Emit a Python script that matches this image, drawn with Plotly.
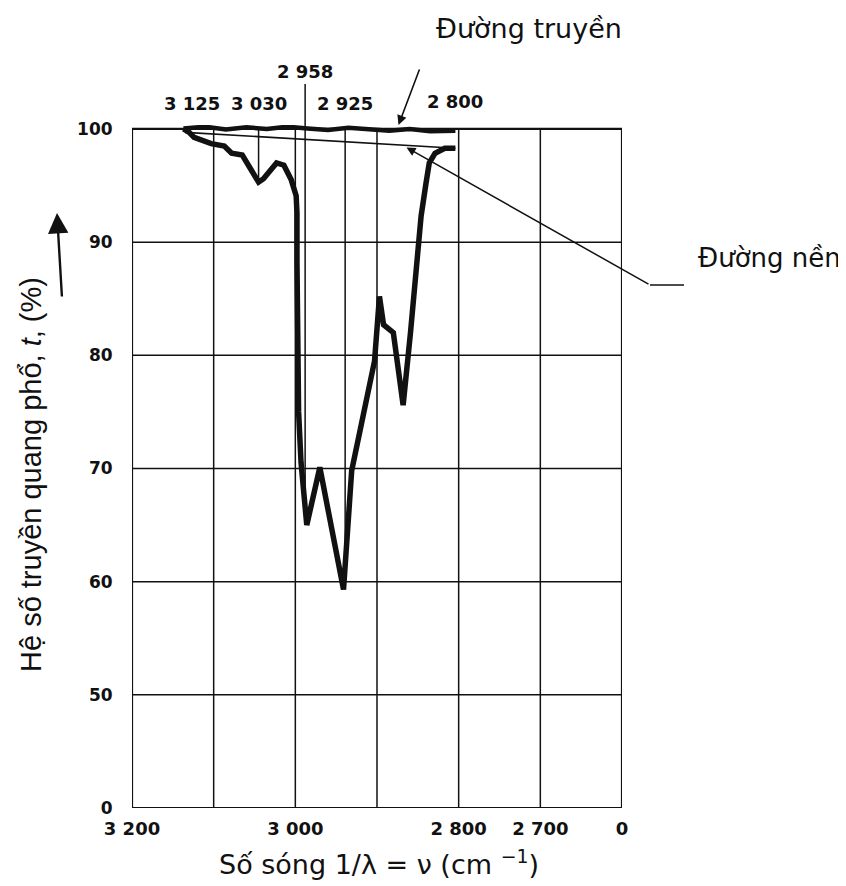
import plotly.graph_objects as go

# ---------------- data ----------------
# transmission curve (wavenumber cm-1, transmission %)
curve_wn = [3137, 3130, 3124, 3103, 3087, 3078, 3065, 3057, 3045, 3039, 3023, 3014,
            3005, 2999, 2998, 2998, 2997, 2996, 2993, 2986, 2970, 2941, 2931, 2917,
            2903, 2897, 2892, 2880, 2868, 2859, 2851, 2846, 2840, 2836, 2829, 2817, 2804]
curve_t = [100.0, 99.7, 99.25, 98.7, 98.5, 97.85, 97.7, 96.8, 95.3, 95.6, 97.0, 96.8,
           95.5, 94.1, 92.6, 88.2, 80.3, 75.0, 70.5, 65.0, 70.1, 59.3, 69.8, 74.8,
           79.5, 85.2, 82.7, 82.0, 75.6, 82.0, 87.9, 92.3, 95.2, 97.0, 97.85, 98.3, 98.3]

# "Đường nền" (baseline)
base_wn = [3135, 2804]
base_t = [99.7, 98.3]

# "Đường truyền" (100 % transmission line, hand drawn)
trans_wn = [3137, 3110, 3085, 3060, 3035, 3010, 2985, 2960, 2935, 2910, 2885, 2860, 2835, 2804]
trans_t = [100.05, 100.2, 99.95, 100.15, 100.0, 100.2, 100.05, 99.9, 100.1, 99.95, 99.85, 100.0, 99.8, 99.85]

# peak marker labels on top
top_pos = [3127, 3045, 2988, 2939, 2804]
top_text = ["3 125", "3 030", "2 958", "2 925", "2 800"]
top_row_px = [104, 104, 71, 104, 102]
# marker lines from the top border down to the band minima
mark_pos = [3045, 2988, 2939]
mark_low = [95.3, 65.0, 59.3]

# axes
x_ticks = [3200, 3000, 2800, 2700, 2600]
x_tick_text = ["3 200", "3 000", "2 800", "2 700", "0"]
x_grid = [3100, 3000, 2900, 2800, 2700]
y_ticks = [40, 50, 60, 70, 80, 90, 100]
y_tick_text = ["0", "50", "60", "70", "80", "90", "100"]
y_grid = [50, 60, 70, 80, 90]

# ---------------- layout geometry ----------------
OFF = 8                      # page body margin of the exported html
W_FIG, H_FIG = 846 - OFF, 886 - OFF
# plot area in window pixels
L, R, T, B = 132, 622, 125, 808
PW, PH = R - L, B - T


def px2paper(px, py):
    return (px - L) / PW, (B - py) / PH


BLACK = "#111111"
NUMFONT = "DejaVu Sans"
fig = go.Figure()

fig.add_trace(go.Scatter(x=trans_wn, y=trans_t, mode="lines",
                         line=dict(color=BLACK, width=4.5), hoverinfo="skip", showlegend=False))
fig.add_trace(go.Scatter(x=base_wn, y=base_t, mode="lines",
                         line=dict(color=BLACK, width=1.6), hoverinfo="skip", showlegend=False))
for p, lo in zip(mark_pos, mark_low):
    fig.add_trace(go.Scatter(x=[p, p], y=[100, lo], mode="lines",
                             line=dict(color=BLACK, width=1.5), hoverinfo="skip", showlegend=False))
fig.add_trace(go.Scatter(x=curve_wn, y=curve_t, mode="lines",
                         line=dict(color=BLACK, width=5.5), showlegend=False))

shapes = []
for g in x_grid:
    shapes.append(dict(type="line", xref="x", yref="y", x0=g, x1=g, y0=40, y1=100,
                       line=dict(color=BLACK, width=1.5), layer="below"))
for g in y_grid:
    shapes.append(dict(type="line", xref="x", yref="y", x0=3200, x1=2600, y0=g, y1=g,
                       line=dict(color=BLACK, width=1.5), layer="below"))
shapes.append(dict(type="rect", xref="x", yref="y", x0=3200, x1=2600, y0=40, y1=100,
                   line=dict(color=BLACK, width=2.2)))
_, yp100 = px2paper(0, 129)
_, yp_top = px2paper(0, 84)
shapes.append(dict(type="line", xref="x", yref="paper", x0=mark_pos[1], x1=mark_pos[1],
                   y0=yp100, y1=yp_top, line=dict(color=BLACK, width=1.5)))
hx0, hy0 = px2paper(650, 285)
hx1, _ = px2paper(684, 285)
shapes.append(dict(type="line", xref="paper", yref="paper", x0=hx0, x1=hx1, y0=hy0, y1=hy0,
                   line=dict(color=BLACK, width=1.5)))

annotations = []
for pos, txt, rowpx in zip(top_pos, top_text, top_row_px):
    _, yp = px2paper(0, rowpx)
    annotations.append(dict(x=pos, y=yp, xref="x", yref="paper", text=txt, showarrow=False,
                            xanchor="center", yanchor="middle",
                            font=dict(family=NUMFONT, size=18, color=BLACK, weight="bold")))


def data2px(wn, t):
    px = L + (3200 - wn) / 600 * PW
    py = T + (100.35 - t) / 60.35 * PH
    return px, py


tx, ty = px2paper(529, 28)
annotations.append(dict(x=tx, y=ty, xref="paper", yref="paper", text="Đường truyền",
                        showarrow=False, xanchor="center", yanchor="middle",
                        font=dict(family="DejaVu Sans", size=27, color=BLACK)))
hx, hy = data2px(2875, 100.1)
annotations.append(dict(x=2875, y=100.1, xref="x", yref="y", text="", showarrow=True,
                        arrowhead=2, arrowsize=1.2, arrowwidth=1.6, arrowcolor=BLACK,
                        ax=420 - hx, ay=68 - hy, standoff=3))
nx, ny = px2paper(843, 258)
annotations.append(dict(x=nx, y=ny, xref="paper", yref="paper", text="Đường nền",
                        showarrow=False, xanchor="right", yanchor="middle",
                        font=dict(family="DejaVu Sans", size=26, color=BLACK)))
bx, by = data2px(2866, 98.45)
annotations.append(dict(x=2866, y=98.45, xref="x", yref="y", text="", showarrow=True,
                        arrowhead=2, arrowsize=1.2, arrowwidth=1.5, arrowcolor=BLACK,
                        ax=650 - bx, ay=285 - by, standoff=2))
yx, yy = px2paper(31, 475)
annotations.append(dict(x=yx, y=yy, xref="paper", yref="paper",
                        text="Hệ số truyền quang phổ, <i>t</i>, (%)", textangle=-90,
                        showarrow=False, xanchor="center", yanchor="middle",
                        font=dict(family="Liberation Sans", size=29, color=BLACK)))
ax_, ay_ = px2paper(57, 213)
annotations.append(dict(x=ax_, y=ay_, xref="paper", yref="paper", text="", showarrow=True,
                        arrowhead=2, arrowsize=1.7, arrowwidth=2.4, arrowcolor=BLACK,
                        ax=5, ay=85, standoff=0))
xx, xy = px2paper(379, 862)
annotations.append(dict(x=xx, y=xy, xref="paper", yref="paper",
                        text="Số sóng 1/λ = ν (cm <sup>−1</sup>)",
                        showarrow=False, xanchor="center", yanchor="middle",
                        font=dict(family="DejaVu Sans", size=27, color=BLACK)))

fig.update_layout(
    width=W_FIG, height=H_FIG,
    margin=dict(l=L - OFF, r=W_FIG - (R - OFF), t=T - OFF, b=H_FIG - (B - OFF), pad=0),
    paper_bgcolor="white", plot_bgcolor="white",
    shapes=shapes, annotations=annotations, showlegend=False,
    xaxis=dict(range=[3200, 2600], tickvals=x_ticks, ticktext=x_tick_text,
               showgrid=False, zeroline=False, showline=False,
               ticks="outside", ticklen=4, tickcolor="rgba(0,0,0,0)",
               tickfont=dict(family=NUMFONT, size=18, color=BLACK, weight="bold")),
    yaxis=dict(range=[40, 100.35], tickvals=y_ticks, ticktext=y_tick_text,
               showgrid=False, zeroline=False, showline=False,
               ticks="outside", ticklen=15, tickcolor="rgba(0,0,0,0)",
               tickfont=dict(family=NUMFONT, size=17, color=BLACK, weight="bold")),
)

fig.write_html("out.html")
